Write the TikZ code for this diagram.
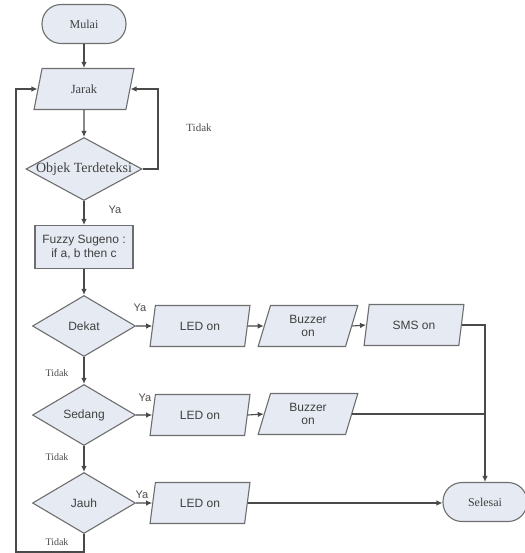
\documentclass[tikz,border=0pt]{standalone}
\usepackage{fontspec}
\setmainfont{Liberation Serif}
\setsansfont{Liberation Sans}
\usetikzlibrary{shapes.geometric,arrows.meta}
\definecolor{boxfill}{HTML}{E6EAF3}
\definecolor{boxline}{HTML}{6E6E6E}
\definecolor{conn}{HTML}{4A4A4A}
\tikzset{
  base/.style={draw=boxline, fill=boxfill, line width=1.1pt, inner sep=0pt, text=black!75},
  term/.style={base, rectangle, rounded corners=19pt, minimum width=84pt, minimum height=39pt, font=\rmfamily\fontsize{12}{14}\selectfont},
  iobox/.style={base, trapezium, trapezium left angle=74, trapezium right angle=106, trapezium stretches=true, minimum width=100pt, minimum height=41pt, align=center, font=\sffamily\fontsize{12}{13}\selectfont},
  procbox/.style={base, rectangle, minimum width=98pt, minimum height=43pt, align=center, font=\sffamily\fontsize{12}{14}\selectfont},
  decide/.style={base, diamond, minimum width=103pt, minimum height=61pt, label={[font=\sffamily\fontsize{12}{14}\selectfont, text=black!75]center:#1}},
  arr/.style={draw=conn, line width=1.1pt, -{Latex[length=6pt,width=5.5pt]}},
  ln/.style={draw=conn, line width=1.1pt},
  lbl/.style={font=\sffamily\fontsize{11}{13}\selectfont, text=black!70},
  slbl/.style={font=\rmfamily\fontsize{10}{12}\selectfont, text=black!70},
}
\begin{document}
\begin{tikzpicture}[x=1pt,y=-1pt]
\useasboundingbox (0,0) rectangle (524,553);
\node[term] (mulai) at (84,24) {Mulai};
\node[iobox, font=\rmfamily\fontsize{12.5}{14}\selectfont] (jarak) at (84,89) {Jarak};
\node[base, diamond, minimum width=116pt, minimum height=63pt,
  label={[font=\rmfamily\fontsize{14}{16}\selectfont, text=black!75]center:Objek Terdeteksi}] (objek) at (84,169) {};
\node[procbox] (fuzzy) at (84,247) {Fuzzy Sugeno :\\if a, b then c};
\node[decide=Dekat] (dekat) at (84,326) {};
\node[decide=Sedang] (sedang) at (84,415) {};
\node[decide=Jauh] (jauh) at (84,503) {};
\node[iobox] (led1) at (200,326) {LED on};
\node[iobox] (buz1) at (308,326) {Buzzer\\on};
\node[iobox] (sms) at (414,325) {SMS on};
\node[iobox] (led2) at (200,415) {LED on};
\node[iobox] (buz2) at (308,414) {Buzzer\\on};
\node[iobox] (led3) at (200,503) {LED on};
\node[term] (selesai) at (485,502) {Selesai};

\coordinate (loopR) at (158,169);
\coordinate (botL) at (16,552);
\coordinate (botC) at (84,552);

\draw[arr] (mulai) -- (jarak);
\draw[arr] (jarak) -- (objek);
\draw[arr] (objek.east) -- (loopR) |- (jarak.east);
\draw[arr] (objek) -- (fuzzy);
\draw[arr] (fuzzy) -- (dekat);
\draw[arr] (dekat) -- (sedang);
\draw[arr] (sedang) -- (jauh);
\draw[arr] (dekat.east) -- (led1.west);
\draw[arr] (led1.east) -- (buz1.west);
\draw[arr] (buz1.east) -- (sms.west);
\draw[arr] (sms.east) -| (selesai.north);
\draw[arr] (sedang.east) -- (led2.west);
\draw[arr] (led2.east) -- (buz2.west);
\draw[ln] (buz2.east) -- (buz2.east -| selesai.north);
\draw[arr] (jauh.east) -- (led3.west);
\draw[arr] (led3.east) -- (led3.east -| selesai.west);
\draw[arr] (jauh.south) -- (botC) -- (botL) |- (jarak.west);

\node[slbl, font=\rmfamily\fontsize{11}{13}\selectfont] (t0) at (199,128) {Tidak};
\node[lbl] (y0) at (115,210) {Ya};
\node[lbl] (y1) at (140,308) {Ya};
\node[lbl] (y2) at (145,398) {Ya};
\node[lbl] (y3) at (142,495) {Ya};
\node[slbl] (t1) at (57,373) {Tidak};
\node[slbl] (t2) at (57,457) {Tidak};
\node[slbl] (t3) at (57,542) {Tidak};
\end{tikzpicture}
\end{document}
